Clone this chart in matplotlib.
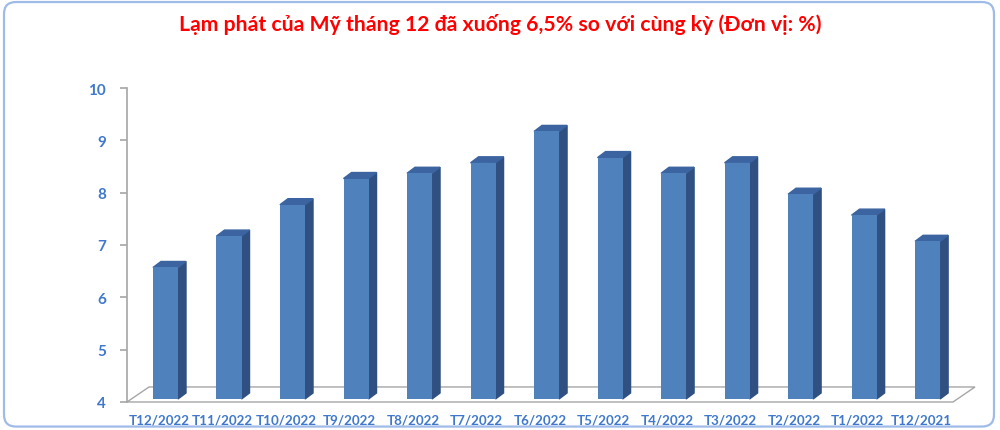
import numpy as np
import matplotlib
matplotlib.use("Agg")
import matplotlib.pyplot as plt
from matplotlib.patches import FancyBboxPatch

thang = ["T12/2022", "T11/2022", "T10/2022", "T9/2022", "T8/2022", "T7/2022",
         "T6/2022", "T5/2022", "T4/2022", "T3/2022", "T2/2022", "T1/2022", "T12/2021"]
lam_phat = [6.5, 7.1, 7.7, 8.2, 8.3, 8.5, 9.1, 8.6, 8.3, 8.5, 7.9, 7.5, 7.0]
y_ticks = [4, 5, 6, 7, 8, 9, 10]

mat = "#4f81bd"
canh = "#2f5080"
nap = "#3c64a0"
chu = "#3f78cc"
xam = "#a6a6a6"

plt.rcParams['font.family'] = ['Lato', 'DejaVu Sans']

fig = plt.figure(figsize=(10, 4.31), dpi=100)

# khung bo tron
khung = FancyBboxPatch((0.004, 0.008), 0.99, 0.985, boxstyle="round,pad=0,rounding_size=0.012",
                       transform=fig.transFigure, facecolor="white", edgecolor="#9fbbe8",
                       linewidth=1.6, mutation_aspect=2.3, zorder=-5)
fig.patches.append(khung)

fig.text(0.5, 0.944, "Lạm phát của Mỹ tháng 12 đã xuống 6,5% so với cùng kỳ (Đơn vị: %)",
         ha="center", va="center", color="#ff0000", fontsize=15.3, fontweight="bold")

ax = fig.add_axes([0.127, 0.065, 0.826, 0.7285])
ax.set_xlim(-0.606, 12.40)
ax.set_ylim(4, 10)
ax.patch.set_alpha(0)
for s in ["top", "right", "bottom"]:
    ax.spines[s].set_visible(False)
ax.spines["left"].set_color(xam)
ax.spines["left"].set_linewidth(1.2)

x = np.arange(len(thang))
w = 0.394
# do sau 3D
sx, sy = 0.126, 0.115      # cua cot
fx, fy = 22 / 63.5, 15 / 52.3  # cua nen
base = 4 + 3 / 52.3
nang = 0.07  # cot 3D hoi cao hon thang do

# nen
x0, x1 = -0.606, 12.40
ax.fill([x0, x1, x1 + fx, x0 + fx], [4, 4, 4 + fy, 4 + fy], facecolor="white",
        edgecolor=xam, linewidth=1.0, clip_on=False, zorder=1)

cao = np.array(lam_phat) + nang
ax.bar(x, cao - base, bottom=base, width=w, color=mat, zorder=3)
for xi, v in zip(x, cao):
    r = xi + w / 2
    l = xi - w / 2
    ax.fill([r, r + sx, r + sx, r], [base, base + sy, v + sy, v], color=canh, zorder=2)
    ax.fill([l, r, r + sx, l + sx], [v, v, v + sy, v + sy], color=nap, zorder=2)

ax.set_yticks(y_ticks)
ax.set_yticklabels([str(t) for t in y_ticks])
ax.tick_params(axis="y", colors=xam, labelcolor=chu, length=5, width=1.2, pad=10, labelsize=11)
for t in ax.get_yticklabels():
    t.set_fontweight("bold")

ax.set_xticks(x - 0.1)
ax.set_xticklabels(thang)
ax.tick_params(axis="x", length=0, labelcolor=chu, labelsize=9.6, pad=8)
for t in ax.get_xticklabels():
    t.set_fontweight("bold")

fig.savefig("out.png", dpi=100)
